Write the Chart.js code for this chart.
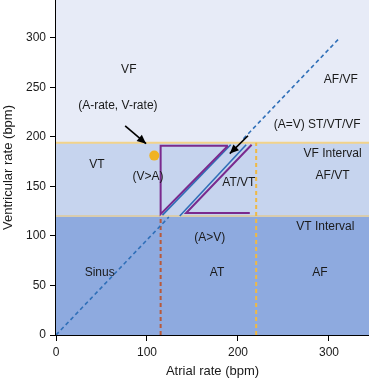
<!DOCTYPE html>
<html>
<head>
<meta charset="utf-8">
<script src="https://cdn.jsdelivr.net/npm/chart.js@4.4.1/dist/chart.umd.min.js"></script>
<style>
  html, body { margin: 0; padding: 0; background: #fff; }
  #wrap { width: 369px; height: 381px; }
</style>
</head>
<body>
<div id="wrap"><canvas id="c"></canvas></div>
<script>
// axis ranges / ticks
const xMax = 344;
const yMax = 338;
const xStep = 100;
const yStep = 50;

// rate zones (bpm)
const vtInterval = 120;
const vfInterval = 194;

// A=V diagonal, split where the detection windows sit
const diagonalLow = [{x: 0, y: 0}, {x: 124, y: 119}];
const diagonalHigh = [{x: 206, y: 198}, {x: 312, y: 300}];

// vertical cut-offs on atrial rate
const sinusCut = [{x: 115, y: 0}, {x: 115, y: 120}];
const afCut = [{x: 220, y: 0}, {x: 220, y: 194}];

// V>A and A>V windows
const purpleLeft = [{x: 189, y: 191}, {x: 115, y: 191}, {x: 115, y: 122}, {x: 189, y: 191}];
const blueLeft = [{x: 117, y: 121}, {x: 192, y: 192}];
const blueRight = [{x: 136, y: 120}, {x: 209, y: 192}];
const purpleRight = [{x: 213, y: 123}, {x: 143, y: 123}, {x: 215, y: 192}];

// example sample point
const samplePoint = [{x: 108, y: 181}];

// arrows: tail -> head
const arrow1 = [{x: 76, y: 211}, {x: 99, y: 193}];
const arrow2 = [{x: 211, y: 201}, {x: 191, y: 183}];

// zone labels
const labelText = ['VF', '(A-rate, V-rate)', 'VT', '(V>A)', 'AF/VF', '(A=V) ST/VT/VF', 'VF Interval',
  'AF/VT', 'AT/VT', 'VT Interval', '(A>V)', 'AT', 'AF', 'Sinus'];
const labelX = [80, 68, 45, 101, 313, 287, 304, 304, 201, 296, 169, 177, 290, 48];
const labelY = [268, 231, 172, 160, 258, 212, 183, 161, 154, 109, 98, 63, 63, 63];

const font = '"Liberation Sans", Arial, sans-serif';

const band = (y, from, bg, border) => ({
  data: [{x: 0, y: y}, {x: xMax, y: y}],
  fill: from === null ? 'origin' : {value: from},
  backgroundColor: bg,
  borderColor: border || 'rgba(0,0,0,0)',
  borderWidth: border ? 2 : 0,
  pointRadius: 0,
  order: 10
});

const seg = (data, color, width, dash) => ({
  data: data,
  borderColor: color,
  borderWidth: width,
  borderDash: dash || [],
  pointRadius: 0,
  fill: false,
  order: 1
});

const labelsPlugin = {
  id: 'zoneLabels',
  afterDatasetsDraw(chart) {
    const {ctx, scales: {x, y}} = chart;
    ctx.save();
    ctx.font = '12px ' + font;
    ctx.fillStyle = '#1a1a1a';
    ctx.textAlign = 'center';
    ctx.textBaseline = 'middle';
    labelText.forEach((t, i) => {
      ctx.fillText(t, x.getPixelForValue(labelX[i]), y.getPixelForValue(labelY[i]));
    });
    ctx.restore();
  }
};

const arrowPlugin = {
  id: 'arrowHeads',
  afterDatasetsDraw(chart) {
    const ctx = chart.ctx;
    chart.data.datasets.forEach((ds, i) => {
      if (!ds.arrow) return;
      const pts = chart.getDatasetMeta(i).data;
      const a = pts[0], b = pts[pts.length - 1];
      const ang = Math.atan2(b.y - a.y, b.x - a.x);
      const len = 9, half = 4;
      ctx.save();
      ctx.fillStyle = '#000';
      ctx.translate(b.x, b.y);
      ctx.rotate(ang);
      ctx.beginPath();
      ctx.moveTo(0, 0);
      ctx.lineTo(-len, -half);
      ctx.lineTo(-len, half);
      ctx.closePath();
      ctx.fill();
      ctx.restore();
    });
  }
};

const arrowDs = (data) => Object.assign(seg(data, '#000', 1.6), {arrow: true});

new Chart(document.getElementById('c'), {
  type: 'line',
  data: {
    datasets: [
      arrowDs(arrow1),
      arrowDs(arrow2),
      {
        data: samplePoint,
        showLine: false,
        pointRadius: 5,
        pointBackgroundColor: '#f0b324',
        pointBorderWidth: 0,
        order: 0
      },
      seg(purpleLeft, '#7a2a8e', 2),
      seg(purpleRight, '#7a2a8e', 2),
      seg(blueLeft, '#2f6fb8', 1.6),
      seg(blueRight, '#2f6fb8', 1.6),
      seg(diagonalLow, '#2f6fb8', 1.6, [4, 3]),
      seg(diagonalHigh, '#2f6fb8', 1.6, [4, 3]),
      seg(sinusCut, '#b8593a', 2, [4, 3]),
      seg(afCut, '#efb944', 2, [4, 3]),
      band(vtInterval, null, '#8eaadf', '#d8ccae'),
      band(vfInterval, vtInterval, '#c6d4ee', '#f2d38a'),
      band(yMax, vfInterval, '#e7ebf7')
    ]
  },
  options: {
    responsive: true,
    maintainAspectRatio: false,
    animation: false,
    layout: {padding: 0, autoPadding: false},
    plugins: {legend: {display: false}, tooltip: {enabled: false}},
    scales: {
      x: {
        type: 'linear',
        min: 0,
        max: xMax,
        afterFit(s) { s.height = 46; s.paddingLeft = 0; s.paddingRight = 0; },
        ticks: {stepSize: xStep, includeBounds: false, color: '#1a1a1a', font: {family: font, size: 12}, padding: 4},
        grid: {drawOnChartArea: false, tickLength: 6, color: '#000', tickColor: '#000'},
        border: {color: '#000', width: 2},
        title: {display: true, text: 'Atrial rate (bpm)', color: '#1a1a1a', font: {family: font, size: 13}, padding: {top: 0, bottom: 2}}
      },
      y: {
        min: 0,
        max: yMax,
        afterFit(s) { s.width = 56; s.paddingTop = 0; s.paddingBottom = 0; },
        ticks: {stepSize: yStep, includeBounds: false, color: '#1a1a1a', font: {family: font, size: 12}, padding: 4},
        grid: {drawOnChartArea: false, tickLength: 6, color: '#000', tickColor: '#000'},
        border: {color: '#000', width: 1.5},
        title: {display: true, text: 'Ventricular rate (bpm)', color: '#1a1a1a', font: {family: font, size: 13}, padding: {top: 1, bottom: 0}}
      }
    }
  },
  plugins: [labelsPlugin, arrowPlugin]
});
</script>
</body>
</html>
